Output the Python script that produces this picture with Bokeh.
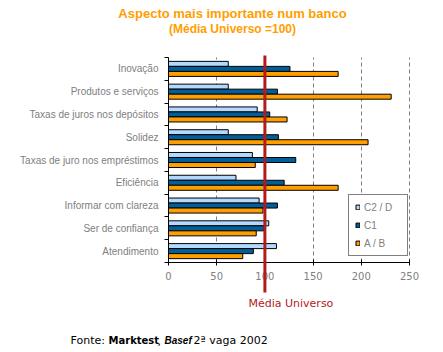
from bokeh.plotting import figure
from bokeh.models import (ColumnDataSource, FixedTicker, Label, Legend, LegendItem,
                          Range1d, LinearAxis)
from bokeh.embed import file_html
from bokeh.resources import INLINE

categories = ["Inovação", "Produtos e serviços", "Taxas de juros nos depósitos",
              "Solidez", "Taxas de juro nos empréstimos", "Eficiência",
              "Informar com clareza", "Ser de confiança", "Atendimento"]
c2d = [62, 62, 92, 62, 87, 70, 94, 104, 112]
c1 = [126, 113, 105, 114, 132, 120, 113, 99, 88]
ab = [176, 231, 123, 207, 90, 176, 98, 91, 77]
x_ticks = [0, 50, 100, 150, 200, 250]
media_universo = 100

# canvas / plot-area geometry (pixels)
W, H = 443, 352
FL, FR, FT, FB = 168, 409, 57, 262
n = len(categories)
XMAX = 250
sx = (FR - FL) / XMAX
sy = (FB - FT) / n


def px2x(px):
    return (px - FL) / sx


def px2y(py):
    return (FB - py) / sy


p = figure(width=W, height=H, output_backend="svg", toolbar_location=None,
           x_range=Range1d(px2x(0), px2x(W)), y_range=Range1d(px2y(H), px2y(0)),
           min_border=0, x_axis_location=None, y_axis_location=None)
p.outline_line_color = None
p.background_fill_color = "white"
p.border_fill_color = "white"

centers = [n - i - 0.5 for i in range(n)]
bh = 0.22
src = ColumnDataSource(dict(
    y_c2d=[c + bh for c in centers], y_c1=centers, y_ab=[c - bh for c in centers],
    c2d=c2d, c1=c1, ab=ab))

r1 = p.hbar(y="y_c2d", right="c2d", left=0, height=bh, source=src,
            fill_color="#B3D9FF", line_color="black", line_width=1)
r2 = p.hbar(y="y_c1", right="c1", left=0, height=bh, source=src,
            fill_color="#005E99", line_color="black", line_width=1)
r3 = p.hbar(y="y_ab", right="ab", left=0, height=bh, source=src,
            fill_color="#FF9E00", line_color="black", line_width=1)

# axes (drawn at fixed locations inside the full-canvas frame)
xa = LinearAxis(fixed_location=0, bounds=(0, XMAX), ticker=FixedTicker(ticks=x_ticks))
xa.axis_line_color = "black"
xa.major_tick_line_color = "black"
xa.major_tick_in = 3
xa.major_tick_out = 3
xa.minor_tick_line_color = None
xa.major_label_text_color = "#808080"
xa.major_label_text_font = "DejaVu Sans"
xa.major_label_text_font_size = "10px"
xa.major_label_standoff = 6
p.add_layout(xa, "below")

ya = LinearAxis(fixed_location=0, bounds=(0, n),
                ticker=FixedTicker(ticks=centers, minor_ticks=list(range(n + 1))))
ya.major_label_overrides = {c: cat for c, cat in zip(centers, categories)}
ya.axis_line_color = "black"
ya.major_tick_out = 0
ya.major_tick_in = 0
ya.minor_tick_out = 4
ya.minor_tick_in = 0
ya.minor_tick_line_color = "black"
ya.major_label_text_color = "#808080"
ya.major_label_text_font = "Liberation Sans"
ya.major_label_text_font_size = "10px"
ya.major_label_standoff = 6
p.add_layout(ya, "left")

p.ygrid.grid_line_color = None
p.xgrid.ticker = FixedTicker(ticks=x_ticks)
p.xgrid.grid_line_color = "#808080"
p.xgrid.grid_line_dash = "4 3"
p.xgrid.grid_line_width = 1
p.xgrid.cross_bounds = (0, n)

# reference line (Média Universo = 100)
ref = p.segment(x0=[media_universo], x1=[media_universo], y0=[px2y(55)], y1=[px2y(292)],
                line_color="#B31B1B", line_width=3)
ref.level = "overlay"
p.add_layout(Label(x=media_universo + 26 / sx, y=px2y(303),
                   text="Média Universo", text_align="center", text_baseline="middle",
                   text_color="#B31B1B", text_font="DejaVu Sans", text_font_size="11px"))

# legend
legend = Legend(items=[LegendItem(label="C2 / D", renderers=[r1]),
                       LegendItem(label="C1", renderers=[r2]),
                       LegendItem(label="A / B", renderers=[r3])],
                location=(348, H - 256))
legend.border_line_color = "black"
legend.border_line_width = 1
legend.background_fill_alpha = 1
legend.label_text_color = "#808080"
legend.label_text_font = "Liberation Sans"
legend.label_text_font_size = "10px"
legend.glyph_width = 5
legend.glyph_height = 6
legend.label_height = 12
legend.label_width = 37
legend.spacing = 6
legend.padding = 6
legend.label_standoff = 4
legend.margin = 0
p.add_layout(legend, "center")

# titles
p.add_layout(Label(x=px2x(232), y=px2y(13), text="Aspecto mais importante num banco",
                   text_align="center", text_baseline="middle", text_color="#FF9E00",
                   text_font="Liberation Sans", text_font_style="bold", text_font_size="13px"))
p.add_layout(Label(x=px2x(232), y=px2y(28), text="(Média Universo =100)",
                   text_align="center", text_baseline="middle", text_color="#FF9E00",
                   text_font="Liberation Sans", text_font_style="bold", text_font_size="12px"))

# footer
fy = px2y(340)
parts = [(70, "Fonte:", "normal", "DejaVu Sans", "11px"),
         (108, "Marktest", "bold", "DejaVu Sans", "10px"),
         (157, ",", "normal", "DejaVu Sans", "11px"),
         (164, "Basef", "bold italic", "Liberation Sans", "10px"),
         (193, "2ª vaga 2002", "normal", "DejaVu Sans", "11px")]
for x0, t, style, font, size in parts:
    p.add_layout(Label(x=px2x(x0), y=fy, text=t, text_align="left", text_baseline="middle",
                       text_color="black", text_font=font, text_font_style=style,
                       text_font_size=size))

open("out.html", "w").write(file_html(p, INLINE))
